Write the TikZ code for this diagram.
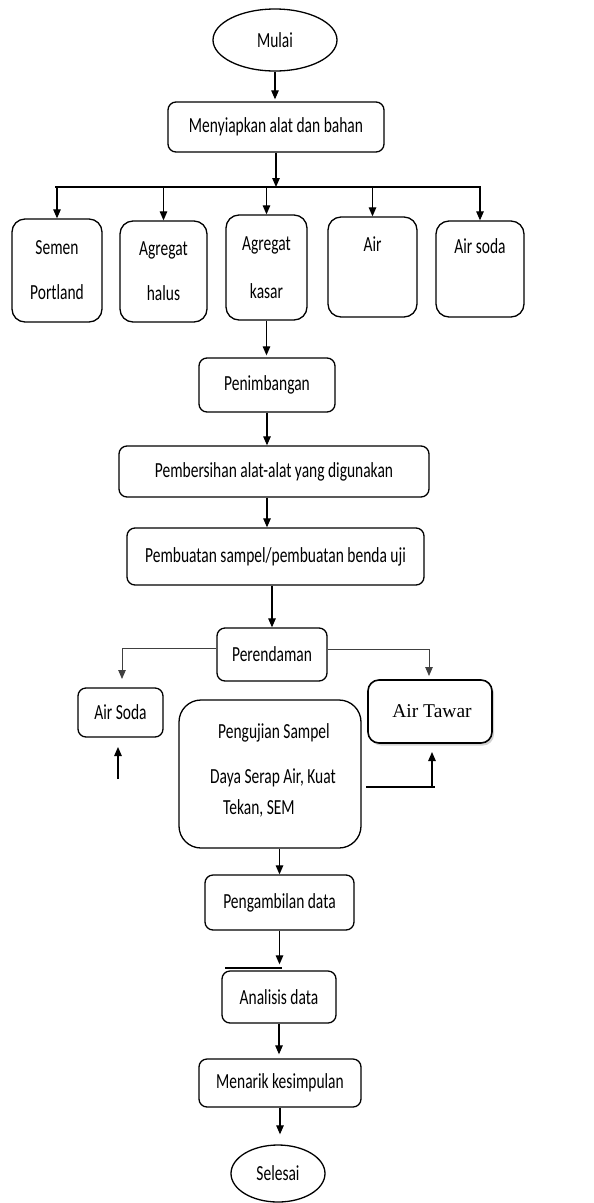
\documentclass[tikz,border=0pt]{standalone}
\usepackage{fontspec}
\setmainfont{Carlito}[FakeStretch=0.72]
\newfontfamily\timesfont{Liberation Serif}
\usetikzlibrary{shapes.geometric,arrows.meta,shadows,calc}
\begin{document}
\begin{tikzpicture}[x=1pt,y=-1pt,
  font=\fontsize{21.5}{24}\selectfont,
  box/.style={draw,line width=1.3pt,rounded corners=8pt,inner sep=0pt,align=center},
  tall/.style={box,rounded corners=13pt,font=\fontsize{21.5}{45}\selectfont},
  oval/.style={draw,ellipse,line width=1.3pt,inner sep=0pt},
  arr/.style={line width=1.2pt,-{Triangle[length=9pt,width=7.5pt]}},
  thinarr/.style={line width=0.8pt,draw=black!75,-{Triangle[length=9pt,width=7.5pt]}},
  ln/.style={line width=1.2pt},
  lbl/.style={anchor=west,inner sep=0pt},
]
\useasboundingbox (0,0) rectangle (594,1203);

% nodes
\node[oval,minimum width=124pt,minimum height=62pt] (mulai) at (275,40) {Mulai};
\node[box,minimum width=216pt,minimum height=50pt] (siap) at (276,127) {Menyiapkan alat dan bahan};

\node[tall,minimum width=90pt,minimum height=103pt] (semen) at (57,270.5) {Semen\\Portland};
\node[tall,minimum width=87pt,minimum height=101pt] (halus) at (163.5,271.5) {Agregat\\halus};
\node[tall,minimum width=81pt,minimum height=105pt,font=\fontsize{21.5}{48}\selectfont] (kasar) at (266.5,267.5) {Agregat\\kasar};
\node[tall,minimum width=89pt,minimum height=100pt] (air) at (372.5,267) {Air\\\mbox{}};
\node[tall,minimum width=88pt,minimum height=96pt] (airsoda) at (480,269) {Air soda\\\mbox{}};

\node[box,minimum width=136pt,minimum height=54pt] (timbang) at (267,385) {Penimbangan};
\node[box,minimum width=310pt,minimum height=51pt] (bersih) at (274,471.5) {Pembersihan alat-alat yang digunakan};
\node[box,minimum width=297pt,minimum height=57pt] (buat) at (275.5,556.5) {Pembuatan sampel/pembuatan benda uji};
\node[box,minimum width=110pt,minimum height=53pt] (rendam) at (272,654.5) {Perendaman};

\node[box,minimum width=85pt,minimum height=49pt] (soda) at (120.5,712.5) {Air Soda};
\node[box,line width=1.6pt,rounded corners=11pt,minimum width=124pt,minimum height=63pt,
      font=\timesfont\fontsize{19.5}{22}\selectfont,
      drop shadow={opacity=0.35,shadow xshift=2pt,shadow yshift=-2.5pt},fill=white] (tawar) at (430,711.5) {\hspace*{4pt}Air Tawar};

\node[box,rounded corners=22pt,minimum width=182pt,minimum height=148pt] (uji) at (270,774) {};
\node[lbl] (uji1) at (218,733) {Pengujian Sampel};
\node[lbl] (uji2) at (210,778) {Daya Serap Air, Kuat};
\node[lbl] (uji3) at (223,808) {Tekan, SEM};

\node[box,minimum width=149pt,minimum height=55pt] (ambil) at (279.5,902.5) {Pengambilan data};
\node[box,minimum width=114pt,minimum height=52pt] (analisis) at (279,997) {Analisis data};
\node[box,minimum width=162pt,minimum height=48pt] (menarik) at (280,1083) {Menarik kesimpulan};
\node[oval,minimum width=94pt,minimum height=57pt] (selesai) at (278,1173.5) {Selesai};

% coordinates for free ends
\coordinate (busL) at (55,187);
\coordinate (busR) at (481,187);
\coordinate (cL) at (122,679);
\coordinate (cR) at (429,676);
\coordinate (sA) at (118,779);
\coordinate (sB) at (118,747);
\coordinate (tA) at (366,787);
\coordinate (tB) at (435,787);
\coordinate (tC) at (432,787);
\coordinate (tD) at (432,752);
\coordinate (aA) at (225,968);
\coordinate (aB) at (282,968);

% connectors
\draw[arr,shorten >=2pt] (mulai.south) -- (mulai.south |- siap.north);
\draw[arr] (siap.south) -- (siap.south |- busL);
\draw[ln] (busL) -- (busR);
\foreach \n in {semen,halus,kasar,air,airsoda}
  \draw[arr] (\n.north |- busL) -- (\n.north);
\draw[arr,shorten >=2pt] (kasar.south) -- (kasar.south |- timbang.north);
\draw[arr] (timbang.south) -- (timbang.south |- bersih.north);
\draw[arr] (timbang.south |- bersih.south) -- (timbang.south |- buat.north);
\draw[arr] (rendam.north |- buat.south) -- (rendam.north);
\draw[thinarr] ($(rendam.west)+(0,-6)$) -| (cL);
\draw[thinarr] ($(rendam.east)+(0,-5)$) -| (cR);
\draw[arr] (sA) -- (sB);
\draw[line width=2.6pt] (tA) -- (tB);
\draw[arr] (tC) -- (tD);
\draw[arr] (ambil.north |- uji.south) -- (ambil.north);
\draw[arr,shorten >=6pt] (ambil.south) -- (ambil.south |- analisis.north);
\draw[ln] (aA) -- (aB);
\draw[arr,shorten >=4pt] (analisis.south) -- (analisis.south |- menarik.north);
\draw[arr,shorten >=10pt] (menarik.south) -- (menarik.south |- selesai.north);
\end{tikzpicture}
\end{document}
